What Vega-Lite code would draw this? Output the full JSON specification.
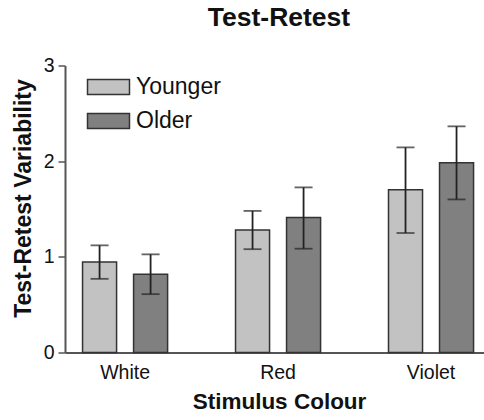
{
  "$schema": "https://vega.github.io/schema/vega-lite/v6.json",
  "autosize": {"type": "none"},
  "padding": {"left": 65, "top": 65.5, "right": 0, "bottom": 67.5},
  "width": 419,
  "height": 287,
  "background": "white",
  "title": {"text": "Test-Retest", "font": "Liberation Sans", "fontSize": 26.5, "fontWeight": "bold", "color": "#111", "anchor": "middle", "frame": "group", "dx": 4.5, "offset": 24},
  "config": {"view": {"stroke": null}, "font": "Liberation Sans"},
  "data": {"values": [
    {"colour": "White", "group": "Younger", "value": 0.946, "lo": 0.77, "hi": 1.12},
    {"colour": "White", "group": "Older", "value": 0.817, "lo": 0.61, "hi": 1.026},
    {"colour": "Red", "group": "Younger", "value": 1.28, "lo": 1.08, "hi": 1.48},
    {"colour": "Red", "group": "Older", "value": 1.41, "lo": 1.085, "hi": 1.726},
    {"colour": "Violet", "group": "Younger", "value": 1.70, "lo": 1.249, "hi": 2.144},
    {"colour": "Violet", "group": "Older", "value": 1.983, "lo": 1.60, "hi": 2.364}
  ]},
  "encoding": {
    "x": {"field": "colour", "type": "nominal", "sort": ["White", "Red", "Violet"],
      "scale": {"paddingInner": 0.444, "paddingOuter": 0.0915, "align": 0.627},
      "axis": {"title": "Stimulus Colour", "labelAngle": 0, "ticks": false, "labelPadding": 11, "labelFontSize": 19.5, "labelColor": "#111", "domainColor": "#555", "domainWidth": 2,
        "titleFontSize": 22.5, "titleFontWeight": "bold", "titleColor": "#111", "titleX": 214, "titleY": 55.5, "titleBaseline": "alphabetic", "titleAnchor": null}},
    "xOffset": {"field": "group", "type": "nominal", "sort": ["Younger", "Older"], "scale": {"paddingInner": 0.333, "paddingOuter": 0}}
  },
  "layer": [
    {
      "mark": {"type": "bar", "stroke": "#333", "strokeWidth": 1.5},
      "encoding": {
        "y": {"field": "value", "type": "quantitative", "scale": {"domain": [0, 3]},
          "axis": {"title": "Test-Retest Variability", "values": [0, 1, 2, 3], "format": "d", "grid": false, "tickSize": 7, "tickColor": "#555", "tickWidth": 1.5, "domainColor": "#555", "domainWidth": 2,
            "labelFontSize": 19.5, "labelColor": "#111", "labelPadding": 4,
            "titleFontSize": 23, "titleFontWeight": "bold", "titleColor": "#111", "titleX": -35, "titleY": 132.5, "titleAngle": -90, "titleBaseline": "alphabetic", "titleAlign": "center"}},
        "color": {"field": "group", "type": "nominal", "sort": ["Younger", "Older"],
          "scale": {"domain": ["Younger", "Older"], "range": ["#c2c2c2", "#808080"]},
          "legend": {"title": null, "orient": "none", "legendX": 32, "legendY": 10, "padding": 0,
            "symbolType": "M-2.5,-0.9H2.5V0.9H-2.5Z", "symbolSize": 282, "symbolStrokeColor": "#333", "symbolStrokeWidth": 1.5, "symbolOpacity": 1,
            "labelFontSize": 23, "labelColor": "#111", "labelOffset": 16, "rowPadding": 10}}
      }
    },
    {
      "mark": {"type": "rule", "color": "#222", "strokeWidth": 1.8},
      "encoding": {"y": {"field": "lo", "type": "quantitative"}, "y2": {"field": "hi"}}
    },
    {
      "mark": {"type": "tick", "color": "#222", "thickness": 1.8, "size": 18},
      "encoding": {"y": {"field": "lo", "type": "quantitative"}}
    },
    {
      "mark": {"type": "tick", "color": "#222", "thickness": 1.8, "size": 18},
      "encoding": {"y": {"field": "hi", "type": "quantitative"}}
    }
  ]
}
